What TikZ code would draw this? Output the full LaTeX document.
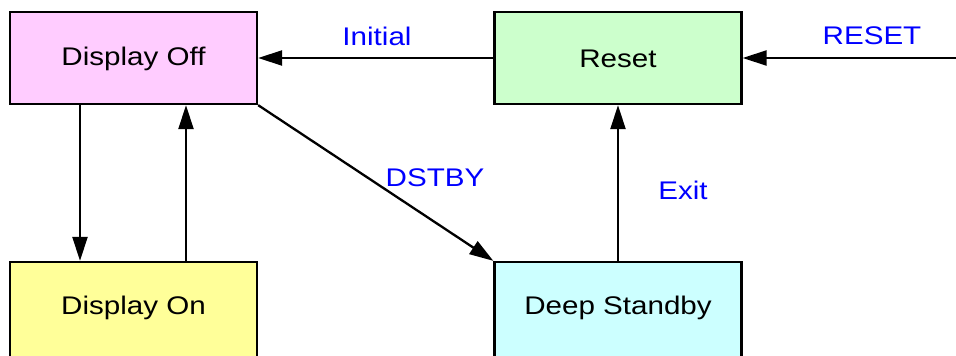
\documentclass[tikz,border=0pt]{standalone}
\usepackage{fontspec}
\setmainfont{Liberation Sans}
\newfontfamily\labfont[FakeStretch=1.16]{Liberation Sans}
\usetikzlibrary{arrows.meta}
\definecolor{offc}{HTML}{FFCCFF}
\definecolor{resc}{HTML}{CCFFCC}
\definecolor{onc}{HTML}{FFFF99}
\definecolor{dsc}{HTML}{CCFFFF}
\definecolor{lblc}{HTML}{0000FF}
\tikzset{
  statebox/.style={draw=black, line width=2.3pt, minimum width=247pt, inner sep=0pt,
    font=\labfont\fontsize{25.5}{30}\selectfont},
  lbl/.style={text=lblc, inner sep=0pt, font=\labfont\fontsize{25.5}{30}\selectfont},
  conn/.style={line width=2.3pt, -{Triangle[length=24pt,width=15pt]}}
}
\begin{document}
\begin{tikzpicture}[x=1pt,y=-1pt]
\useasboundingbox (0,0) rectangle (956,356);
\clip (0,0) rectangle (956,356);
\node[statebox, fill=offc, minimum height=92pt] (off) at (133.5,58) {};
\node[statebox, fill=resc, minimum height=92pt] (reset) at (618,58) {};
\node[statebox, fill=onc, minimum height=120pt] (on) at (133.5,322) {};
\node[statebox, fill=dsc, minimum height=120pt] (ds) at (618,322) {};
\node[font=\labfont\fontsize{25.5}{30}\selectfont] (offtext) at (133.5,59) {Display Off};
\node[font=\labfont\fontsize{25.5}{30}\selectfont] (restext) at (618,59) {Reset};
\node[font=\labfont\fontsize{25.5}{30}\selectfont] (ontext) at (133.5,308) {Display On};
\node[font=\labfont\fontsize{25.5}{30}\selectfont] (dstext) at (618,308) {Deep Standby};
\coordinate (rin) at (956,58);
\draw[conn] (rin) -- (reset.east);
\draw[conn] (reset.west) -- (off.east);
\draw[conn] ([xshift=-53.5pt]off.south) -- ([xshift=-53.5pt]on.north);
\draw[conn] ([xshift=52.5pt]on.north) -- ([xshift=52.5pt]off.south);
\draw[conn] (off.south east) -- (ds.north west);
\draw[conn] (ds.north) -- (reset.south);
\node[lbl] (linit) at (377,36) {Initial};
\node[lbl] (lreset) at (872,36) {RESET};
\node[lbl] (ldst) at (435,178) {DSTBY};
\node[lbl] (lexit) at (683,190) {Exit};
\end{tikzpicture}
\end{document}
